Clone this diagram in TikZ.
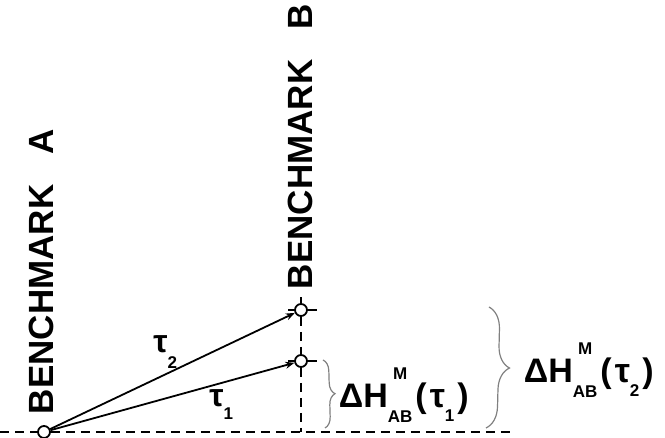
\documentclass[tikz,border=0pt]{standalone}
\usepackage{fontspec}
\setmainfont{Liberation Sans}
\usetikzlibrary{arrows.meta,decorations.pathreplacing}

\newlength\abwd
\newcommand\supsub[2]{{\fontsize{17}{17}\selectfont\settowidth\abwd{#2}%
  \rlap{\raisebox{28pt}{\makebox[\abwd]{#1}}}\raisebox{-15pt}{#2}}}
\newcommand\idx[2]{\raisebox{-#1}{\fontsize{17}{17}\selectfont #2}}
\newcommand\dHM[1]{ΔH\supsub{M}{AB}\hspace{3pt}(\hspace{3pt}τ\idx{14pt}{#1}\hspace{3pt})}

\begin{document}
\begin{tikzpicture}[x=1pt,y=1pt,line width=1.8pt,
	bm/.style={circle,draw,fill=white,inner sep=0pt,minimum size=12pt},
	lvl/.style={dash pattern=on 9pt off 6pt},
	hbrace/.style={decorate,decoration={brace,amplitude=#1},gray,line width=1.2pt},
	lbl/.style={font=\fontsize{34}{38}\selectfont\bfseries,inner sep=0pt,anchor=base west},
	tau/.style={font=\fontsize{32}{34}\selectfont\bfseries,inner sep=0pt}]
			\useasboundingbox (0,0) rectangle (665,438);
			\node[bm] (A) at (44,6) {};
			\node[bm] (B1) at (301,77) {};
			\node[bm] (B2) at (301,128) {};
			\coordinate (L) at (0,6);
			\coordinate (R) at (515,6);
			\coordinate (F) at (301,6);
			\draw[lvl] (L) -- (A);
			\draw[lvl] (A) -- (R);
			\draw[lvl] (B2) -- (B1);
			\draw[lvl] (B1) -- (F);
			\foreach \n in {B1,B2}
				\draw[line width=1.2pt] (\n.north) -- ++(0,6) (\n.south) -- ++(0,-5) (\n.east) -- ++(9,0) (\n.west) -- ++(-6,0);
			\draw[-{Stealth[length=9pt,width=7pt]}] (A) -- node[tau, pos=0.47, above=5pt]{τ\idx{16pt}{2}} (B2);
			\draw[-{Stealth[length=9pt,width=7pt]}] (A) -- node[tau, pos=0.70, below=6pt]{τ\idx{13pt}{1}} (B1);
			\node[font=\fontsize{35}{40}\selectfont\bfseries, rotate=90, anchor=base west, inner sep=0pt] (bmA) at (53,23) {BENCHMARK\hspace{30pt}A};
			\node[font=\fontsize{35}{40}\selectfont\bfseries, rotate=90, anchor=base west, inner sep=0pt] (bmB) at (312,148) {BENCHMARK\hspace{30pt}B};
			\coordinate (t1) at (323,78);
			\coordinate (b1) at (325,10);
			\coordinate (t2) at (489,131);
			\coordinate (b2) at (486,10);
			\draw[hbrace=11pt] (t1) -- (b1);
			\draw[hbrace=22pt] (t2) -- (b2);
			\node[lbl] (d1) at (338,30) {\dHM{1}};
			\node[lbl] (d2) at (523,55) {\dHM{2}};
		\end{tikzpicture}
\end{document}
